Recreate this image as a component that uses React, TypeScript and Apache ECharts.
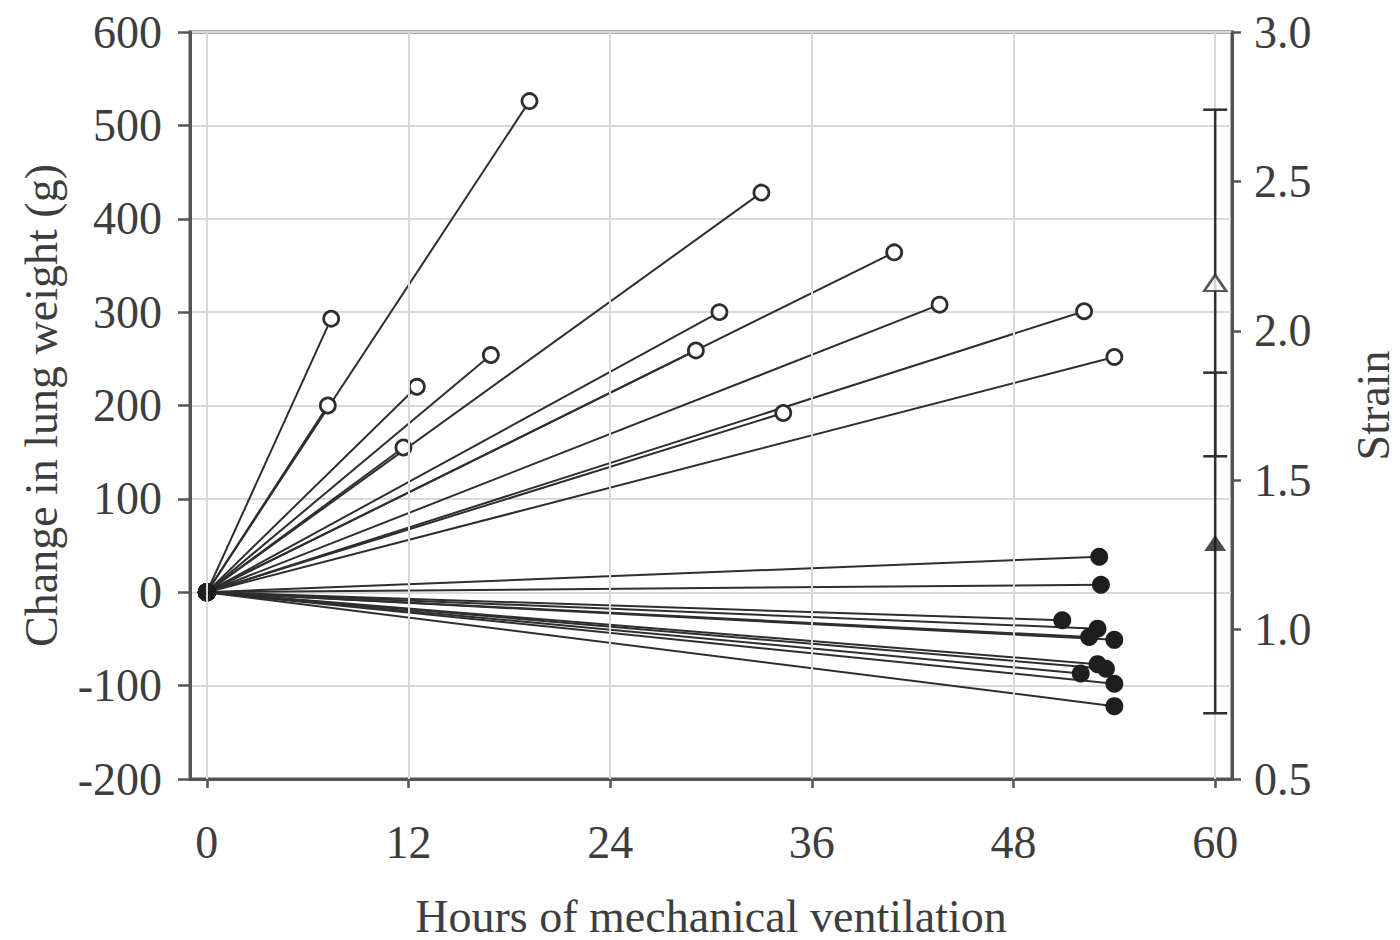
import React, { useEffect, useRef } from "react";
import * as echarts from "echarts";

// Open circles (rising lung weight)
const openHours = [19.2, 33.0, 40.9, 30.5, 43.6, 52.2, 54.0, 29.1, 34.3, 7.4, 7.2, 12.5, 16.9, 11.7];
const openWeight = [526, 428, 364, 300, 308, 301, 252, 259, 192, 293, 200, 220, 254, 155];

// Filled circles (falling lung weight)
const filledHours = [53.1, 53.2, 50.9, 53.0, 52.5, 54.0, 53.0, 53.5, 52.0, 54.0, 54.0];
const filledWeight = [38, 8, -30, -39, -48, -51, -77, -82, -87, -98, -122];

// Strain (right axis), mean ± SD at 60 h
const strainHours = [60, 60];
const strainMean = [2.16, 1.29];
const strainSD = [0.58, 0.57];

const xTicks = [0, 12, 24, 36, 48, 60];

const FONT = "Liberation Serif";
const TXT = "#3d3d3d";
const DARK = "#2e2e2e";

export default function App() {
  const ref = useRef<HTMLDivElement>(null);
  useEffect(() => {
    if (!ref.current) return;
    const chart = echarts.init(ref.current, undefined, { renderer: "svg" });
    const lineSeries: any[] = [];
    openHours.forEach((h, i) => {
      lineSeries.push({
        type: "line",
        data: [[0, 0], [h, openWeight[i]]],
        symbol: "circle",
        symbolSize: 15,
        showSymbol: true,
        itemStyle: { color: "#ffffff", borderColor: DARK, borderWidth: 2.8 },
        lineStyle: { color: DARK, width: 2 },
        emphasis: { disabled: true },
        z: 3,
      });
    });
    filledHours.forEach((h, i) => {
      lineSeries.push({
        type: "line",
        data: [[0, 0], [h, filledWeight[i]]],
        symbol: "circle",
        symbolSize: 18,
        showSymbol: true,
        itemStyle: { color: "#1e1e1e", borderColor: "#1e1e1e", borderWidth: 0 },
        lineStyle: { color: DARK, width: 2 },
        emphasis: { disabled: true },
        z: 4,
      });
    });

    const option: any = {
      animation: false,
      backgroundColor: "#ffffff",
      grid: {
        left: 190,
        right: 168,
        top: 32,
        bottom: 161,
        show: true,
        borderColor: "#555",
        borderWidth: 3,
        containLabel: false,
        outerBoundsMode: "none",
      },
      xAxis: {
        type: "value",
        min: -1,
        max: 61,
        name: "Hours of mechanical ventilation",
        nameLocation: "middle",
        nameGap: 114,
        nameTextStyle: { fontFamily: FONT, fontSize: 46, color: TXT },
        axisLine: { onZero: false, lineStyle: { color: "#555", width: 3 } },
        axisTick: { show: true, customValues: xTicks, length: 9, lineStyle: { color: "#555", width: 2.5 } },
        axisLabel: {
          customValues: xTicks,
          fontFamily: FONT,
          fontSize: 46,
          color: TXT,
          margin: 40,
        },
        splitLine: { show: false },
      },
      yAxis: [
        {
          type: "value",
          min: -200,
          max: 600,
          interval: 100,
          position: "left",
          name: "Change in lung weight (g)",
          nameLocation: "middle",
          nameGap: 126,
          nameRotate: 90,
          nameTextStyle: { fontFamily: FONT, fontSize: 46, color: TXT },
          axisLine: { show: true, onZero: false, lineStyle: { color: "#555", width: 3 } },
          axisTick: { show: true, length: 12, lineStyle: { color: "#555", width: 2.5 } },
          axisLabel: { fontFamily: FONT, fontSize: 46, color: TXT, margin: 28 },
          splitLine: { show: true, lineStyle: { color: "#d9d9d9", width: 2 } },
        },
        {
          type: "value",
          min: 0.5,
          max: 3.0,
          interval: 0.5,
          position: "right",
          name: "Strain",
          nameLocation: "middle",
          nameGap: 118,
          nameRotate: 90,
          nameTextStyle: { fontFamily: FONT, fontSize: 46, color: TXT },
          axisLine: { show: true, onZero: false, lineStyle: { color: "#555", width: 3 } },
          axisTick: { show: true, length: 9, lineStyle: { color: "#555", width: 2.5 } },
          axisLabel: {
            fontFamily: FONT,
            fontSize: 46,
            color: TXT,
            margin: 22,
            formatter: (v: number) => v.toFixed(1),
          },
          splitLine: { show: false },
        },
      ],
      series: [
        {
          type: "line",
          data: [],
          z: 1,
          silent: true,
          markLine: {
            silent: true,
            symbol: "none",
            label: { show: false },
            lineStyle: { color: "#d9d9d9", width: 2, type: "solid" },
            data: xTicks.map((t) => ({ xAxis: t })),
          },
        },
        ...lineSeries,
        {
          type: "custom",
          xAxisIndex: 0,
          yAxisIndex: 1,
          z: 5,
          clip: false,
          data: strainHours.map((h, i) => [h, strainMean[i], strainSD[i]]),
          encode: { x: 0, y: 1 },
          renderItem: (params: any, api: any) => {
            const x = api.value(0);
            const m = api.value(1);
            const sd = api.value(2);
            const top = api.coord([x, m + sd]);
            const bot = api.coord([x, m - sd]);
            const hw = 12;
            const style = { stroke: DARK, lineWidth: 2.5 };
            return {
              type: "group",
              children: [
                { type: "line", shape: { x1: top[0], y1: top[1], x2: bot[0], y2: bot[1] }, style },
                { type: "line", shape: { x1: top[0] - hw, y1: top[1], x2: top[0] + hw, y2: top[1] }, style },
                { type: "line", shape: { x1: bot[0] - hw, y1: bot[1], x2: bot[0] + hw, y2: bot[1] }, style },
              ],
            };
          },
        },
        {
          type: "scatter",
          xAxisIndex: 0,
          yAxisIndex: 1,
          z: 6,
          symbol: "triangle",
          symbolSize: [22, 16],
          data: [[strainHours[0], strainMean[0]]],
          itemStyle: { color: "#ffffff", borderColor: DARK, borderWidth: 2.5 },
        },
        {
          type: "scatter",
          xAxisIndex: 0,
          yAxisIndex: 1,
          z: 6,
          symbol: "triangle",
          symbolSize: [22, 16],
          data: [[strainHours[1], strainMean[1]]],
          itemStyle: { color: "#1e1e1e" },
        },
      ],
    };
    chart.setOption(option);
    return () => chart.dispose();
  }, []);
  return (
    <div
      ref={ref}
      style={{ position: "fixed", left: 0, top: 0, width: 1400, height: 940, background: "#fff" }}
    />
  );
}
